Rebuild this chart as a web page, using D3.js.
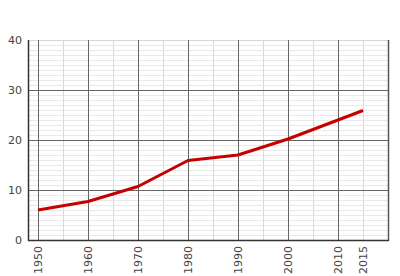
<!DOCTYPE html>
<html>
<head>
<meta charset="utf-8">
<script src="https://cdn.jsdelivr.net/npm/d3@7"></script>
<style>
  body { margin: 0; background: #fff; }
  text { font-family: "DejaVu Sans", sans-serif; font-size: 11px; fill: #444; }
</style>
</head>
<body>
<script>
const WIDTH = 400, HEIGHT = 276;
const years = [1950, 1960, 1970, 1980, 1990, 2000, 2010, 2015];
const values = [6.0, 7.7, 10.7, 15.9, 17.0, 20.2, 24.0, 25.9];
const yTicks = [0, 10, 20, 30, 40];

const padL = 28, padR = 388, padT = 40, padB = 240;

const svg = d3.select("body").append("svg")
    .attr("width", WIDTH)
    .attr("height", HEIGHT);

const x = d3.scaleLinear().domain([1948, 2020]).range([padL, padR]);
const y = d3.scaleLinear().domain([0, 40]).range([padB, padT]);

const grid = svg.append("g");

// minor horizontal lines, every unit
grid.selectAll("line.hmin")
    .data(d3.range(1, 40).filter(d => d % 10 !== 0))
    .enter().append("line")
    .attr("x1", padL).attr("x2", padR)
    .attr("y1", d => Math.round(y(d)) + 0.5).attr("y2", d => Math.round(y(d)) + 0.5)
    .attr("stroke", "#e9e9e9");

// minor vertical lines, every 5 years
grid.selectAll("line.vmin")
    .data(d3.range(1955, 2020, 10))
    .enter().append("line")
    .attr("y1", padT).attr("y2", padB)
    .attr("x1", d => Math.round(x(d)) + 0.5).attr("x2", d => Math.round(x(d)) + 0.5)
    .attr("stroke", "#dadada");

// top border
grid.append("line")
    .attr("x1", padL).attr("x2", padR)
    .attr("y1", padT + 0.5).attr("y2", padT + 0.5)
    .attr("stroke", "#d6d6d6");

// major horizontal
grid.selectAll("line.hmaj")
    .data([10, 20, 30])
    .enter().append("line")
    .attr("x1", padL).attr("x2", padR)
    .attr("y1", d => Math.round(y(d)) + 0.5).attr("y2", d => Math.round(y(d)) + 0.5)
    .attr("stroke", "#666");

// major vertical
grid.selectAll("line.vmaj")
    .data(d3.range(1950, 2020, 10))
    .enter().append("line")
    .attr("y1", padT).attr("y2", padB)
    .attr("x1", d => Math.round(x(d)) + 0.5).attr("x2", d => Math.round(x(d)) + 0.5)
    .attr("stroke", "#666");

// frame
svg.append("line").attr("x1", padL + 0.5).attr("x2", padL + 0.5)
    .attr("y1", padT).attr("y2", padB + 1).attr("stroke", "#333").attr("stroke-width", 1.5);
svg.append("line").attr("x1", padR + 0.5).attr("x2", padR + 0.5)
    .attr("y1", padT).attr("y2", padB + 1).attr("stroke", "#555").attr("stroke-width", 1.5);
svg.append("line").attr("x1", padL).attr("x2", padR + 1)
    .attr("y1", padB + 0.5).attr("y2", padB + 0.5).attr("stroke", "#333").attr("stroke-width", 1.5);

// y labels
svg.selectAll("text.ylab")
    .data(yTicks)
    .enter().append("text")
    .attr("x", padL - 6)
    .attr("y", d => y(d) + 4)
    .attr("text-anchor", "end")
    .text(d => d);

// x labels rotated
svg.selectAll("text.xlab")
    .data(years)
    .enter().append("text")
    .attr("transform", d => `translate(${x(d) + 4},${padB + 6}) rotate(-90)`)
    .attr("text-anchor", "end")
    .text(d => d);

// data line
const line = d3.line().x((d, i) => x(years[i])).y(d => y(d));
svg.append("path")
    .datum(values)
    .attr("d", line)
    .attr("fill", "none")
    .attr("stroke", "#c40000")
    .attr("stroke-width", 3)
    .attr("stroke-linejoin", "round");
</script>
</body>
</html>
